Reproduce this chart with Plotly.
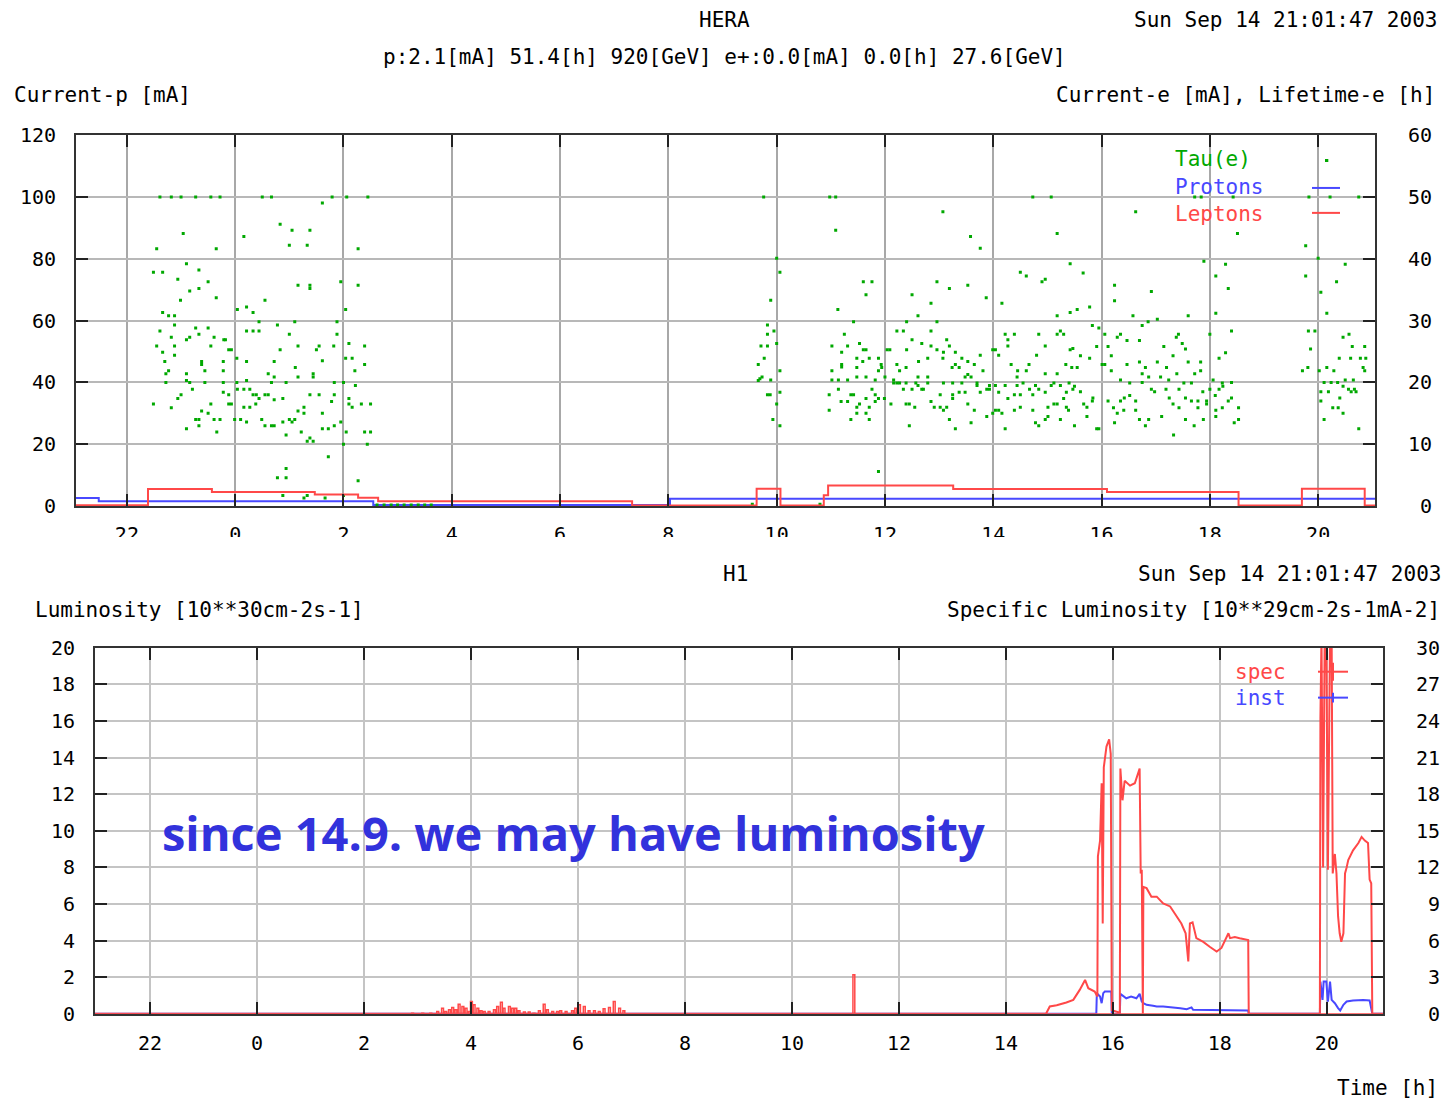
import plotly.graph_objects as go

W, H = 1446, 1100

# ---------------- data ----------------
hour_ticks = [-2, 0, 2, 4, 6, 8, 10, 12, 14, 16, 18, 20]
hour_labels = ["22", "0", "2", "4", "6", "8", "10", "12", "14", "16", "18", "20"]

curp_ticks = [0, 20, 40, 60, 80, 100, 120]
cure_ticks = [0, 10, 20, 30, 40, 50, 60]
lumi_ticks = [0, 2, 4, 6, 8, 10, 12, 14, 16, 18, 20]
spec_ticks = [0, 3, 6, 9, 12, 15, 18, 21, 24, 27, 30]

# Tau(e) lifetime [h] samples (hour, lifetime)
tau_run1 = [
    (-1.39, 50), (-1.18, 50), (-1.00, 50), (-0.73, 50), (-0.45, 50), (-0.28, 50), (0.50, 50), (0.67, 50),
    (1.79, 50), (2.06, 50), (2.45, 50), (1.61, 49.0), (0.83, 45.6), (-0.96, 44.1), (1.05, 44.6), (1.38, 44.6),
    (0.16, 43.6), (-1.45, 41.6), (-0.35, 41.6), (1.00, 42.2), (1.33, 42.2), (2.27, 41.6),
    (-0.90, 39.2), (-1.51, 37.8), (-1.34, 37.8), (-0.67, 38.2), (-1.06, 36.7), (-0.50, 36.3), (-0.84, 34.8),
    (-0.67, 35.2), (1.16, 35.7), (1.38, 35.7), (1.38, 35.2), (1.95, 36.3), (2.27, 35.7), (-1.01, 33.3),
    (-0.35, 33.7), (0.55, 33.3), (0.04, 31.8), (0.21, 32.2), (0.33, 31.3), (-1.34, 31.3), (-1.23, 30.8),
    (-1.12, 30.8), (-1.12, 29.3), (0.44, 29.8), (0.78, 29.3), (1.10, 29.8), (1.88, 29.8), (2.04, 31.8),
    (-1.39, 28.3), (-0.73, 28.8), (-0.50, 28.8), (0.21, 28.3), (0.33, 28.3), (0.44, 28.3), (1.00, 27.8),
    (1.88, 27.8), (-1.18, 27.3), (-0.90, 26.9), (-0.84, 27.3), (-0.67, 27.8), (-0.39, 27.3), (-0.21, 26.9),
    (-0.18, 26.9), (2.10, 26.3), (-1.45, 25.9), (-1.12, 25.9), (-0.45, 25.9), (-0.12, 25.3), (-0.07, 25.3),
    (0.83, 25.3), (1.16, 25.9), (1.50, 25.3), (1.55, 25.9), (1.82, 25.9), (2.39, 25.9),
    (-1.34, 24.9), (-1.12, 24.4), (0.03, 23.9), (-1.30, 23.4), (-0.62, 23.4), (-0.62, 22.9), (-0.22, 23.4),
    (0.21, 23.4), (0.72, 23.4), (1.61, 23.5), (1.11, 22.4), (2.04, 23.9), (2.16, 23.9), (2.39, 22.9),
    (-1.28, 21.4), (-1.23, 21.9), (-0.90, 21.4), (-0.56, 21.9), (-0.22, 21.9), (0.61, 21.4), (0.72, 20.9),
    (1.44, 21.4), (1.44, 20.9), (1.16, 20.9), (2.21, 21.9),
    (-1.28, 20.0), (-0.90, 20.3), (-0.84, 20.0), (-0.56, 20.0), (-0.22, 20.0), (0.03, 20.0), (0.21, 20.3),
    (0.67, 20.0), (0.94, 20.0), (1.83, 20.0), (2.00, 20.0), (2.22, 19.5), (-0.79, 18.9), (0.04, 18.9),
    (0.16, 18.9), (0.27, 18.9), (-0.22, 18.4), (-0.12, 18.0), (0.33, 18.0), (0.44, 17.4), (0.39, 18.0),
    (0.55, 18.0), (0.61, 18.0), (0.72, 17.2), (0.88, 17.4), (1.38, 18.0), (1.55, 18.0), (1.83, 18.0),
    (2.10, 17.4), (2.10, 16.5), (2.16, 16.0), (2.33, 16.5), (2.50, 16.5), (1.78, 16.9), (-1.00, 18.0),
    (-1.06, 17.4), (-1.51, 16.5), (-1.18, 15.9), (-0.45, 16.5), (-0.12, 16.5), (-0.07, 16.5), (0.16, 16.0),
    (0.27, 16.0), (0.38, 16.5), (1.16, 15.4), (1.27, 16.0), (1.27, 15.0), (1.61, 15.0),
    (-0.73, 14.0), (-0.67, 14.0), (-0.62, 15.4), (-0.50, 15.0), (-0.39, 14.0), (-0.28, 14.0), (-0.01, 14.0),
    (0.10, 14.0), (0.21, 13.6), (0.49, 14.0), (0.55, 13.0), (0.67, 13.0), (0.72, 13.0), (0.88, 13.6),
    (1.00, 14.0), (1.05, 13.6), (1.10, 14.0), (-0.90, 12.5), (-0.67, 13.0), (-0.34, 12.0), (0.94, 11.5),
    (1.22, 12.0), (1.61, 12.5), (1.72, 12.5), (1.83, 13.0), (1.95, 13.6), (2.05, 12.0), (2.39, 12.0),
    (2.50, 12.0), (1.33, 10.5), (1.44, 10.5), (1.38, 11.0), (2.44, 10.0), (2.00, 10.0),
    (1.72, 8.0), (0.94, 6.1), (0.78, 4.6), (0.94, 4.6), (2.27, 4.1), (0.88, 1.7), (1.27, 1.3), (1.33, 1.7),
    (1.66, 1.3), (2.00, 1.7),
    (2.62, 0.2), (2.75, 0.2), (2.88, 0.2), (3.00, 0.2), (3.12, 0.2), (3.25, 0.2), (3.38, 0.2), (3.50, 0.2),
    (3.62, 0.2),
]

tau_run2 = [
    (9.76, 50), (10.98, 50), (11.09, 50), (14.73, 50), (15.07, 50),
    (13.07, 47.6), (11.09, 44.6), (13.58, 43.6), (13.76, 41.7), (15.18, 44.1),
    (10.00, 40.1), (10.06, 37.8), (15.42, 39.2), (14.50, 37.8), (14.61, 37.2), (14.90, 36.3), (14.96, 36.7),
    (11.60, 36.3), (11.76, 36.3), (12.96, 36.3), (13.19, 35.2), (13.53, 35.7), (11.65, 34.2), (12.50, 34.2),
    (13.87, 33.7), (14.16, 32.8), (9.89, 33.3), (11.13, 31.8), (12.85, 32.8), (12.61, 30.8), (15.18, 30.8),
    (15.42, 31.3),
    (9.83, 29.3), (9.83, 27.8), (9.95, 28.3), (11.42, 29.8), (12.40, 29.8), (12.96, 29.8), (12.22, 28.3),
    (12.34, 28.3), (12.85, 28.3), (11.25, 27.8), (14.22, 27.8), (14.39, 27.8), (14.84, 27.8), (15.18, 27.8),
    (15.30, 27.8), (15.24, 28.3),
    (9.71, 25.9), (9.83, 25.9), (10.00, 26.3), (11.02, 25.9), (11.31, 25.9), (11.53, 26.3), (11.60, 25.3),
    (11.65, 25.3), (12.04, 25.3), (12.09, 25.3), (12.40, 25.3), (12.50, 26.9), (12.68, 26.3), (12.85, 25.9),
    (12.96, 25.3), (13.08, 24.9), (13.14, 26.9), (13.19, 25.9), (13.30, 24.9), (13.76, 24.4), (13.99, 25.3),
    (14.04, 25.3), (14.10, 24.4), (14.27, 26.9), (14.27, 25.9), (14.80, 24.4), (14.96, 25.9), (15.42, 25.3),
    (15.47, 25.5),
    (9.77, 23.9), (9.66, 22.9), (11.20, 24.9), (11.20, 22.9), (11.20, 22.5), (11.48, 23.9), (11.48, 22.4),
    (11.59, 23.4), (11.71, 23.9), (11.88, 23.9), (11.93, 22.9), (11.94, 22.4), (12.22, 22.9), (12.39, 22.4),
    (12.62, 23.4), (12.79, 23.9), (13.07, 23.9), (13.24, 22.4), (13.30, 22.9), (13.37, 22.4), (13.42, 23.9),
    (13.53, 23.4), (13.65, 22.9), (13.81, 21.9), (14.33, 22.9), (14.45, 21.9), (14.61, 21.9), (14.66, 22.9),
    (15.34, 22.9), (15.45, 22.4),
    (9.66, 20.3), (9.69, 20.6), (9.73, 20.9), (9.89, 20.4), (10.06, 21.9), (11.02, 20.4), (11.14, 20.4),
    (11.31, 20.4), (11.02, 21.9), (11.48, 20.9), (11.65, 20.9), (11.82, 20.4), (11.88, 21.9), (12.00, 20.9),
    (12.16, 20.4), (12.27, 21.9), (12.27, 19.9), (12.61, 20.9), (12.79, 20.9), (13.48, 20.9), (13.53, 21.3),
    (13.59, 20.9), (14.44, 20.9), (14.96, 21.4), (15.18, 21.4),
    (12.16, 19.9), (12.22, 19.9), (12.39, 19.9), (12.57, 19.9), (12.61, 19.5), (12.79, 19.9), (13.08, 19.9),
    (13.25, 19.9), (13.42, 19.9), (13.70, 19.9), (13.70, 19.5), (13.93, 19.5), (14.04, 19.5), (14.22, 19.5),
    (14.44, 19.5), (14.55, 19.9), (14.78, 19.5), (15.07, 19.5), (15.12, 19.9), (15.24, 19.5), (15.40, 19.9),
    (9.83, 18.0), (9.88, 18.0), (10.06, 18.4), (10.00, 16.5), (10.97, 18.0), (11.14, 18.9), (11.37, 18.0),
    (11.42, 18.0), (11.65, 17.4), (11.76, 18.9), (11.82, 18.0), (11.88, 17.4), (11.99, 17.4), (11.82, 16.9),
    (12.11, 16.5), (12.34, 18.9), (12.50, 18.9), (12.68, 18.9), (12.71, 18.9), (13.02, 18.0), (13.25, 17.4),
    (13.37, 18.4), (13.48, 18.4), (13.76, 18.4), (13.88, 18.9), (13.93, 18.9), (14.10, 18.4), (14.27, 17.4),
    (14.39, 18.0), (14.50, 18.0), (14.67, 18.9), (14.73, 18.0), (14.84, 18.9), (14.96, 18.4), (15.30, 17.4),
    (15.35, 18.4), (15.47, 18.9),
    (11.19, 16.9), (11.31, 16.9), (11.48, 16.0), (11.53, 16.5), (11.71, 16.0), (12.39, 16.5), (12.45, 16.5),
    (12.55, 16.0), (12.85, 16.9), (12.91, 16.0), (13.08, 15.5), (13.02, 16.0), (13.14, 16.0), (13.25, 18.0),
    (13.53, 16.5), (13.65, 15.5), (13.88, 14.5), (13.99, 15.0), (14.04, 15.5), (14.10, 15.5), (14.16, 15.0),
    (14.39, 15.5), (14.50, 16.0), (14.73, 15.5), (15.01, 16.0), (15.12, 16.5), (15.18, 16.5), (15.35, 16.0),
    (15.39, 15.5),
    (9.93, 14.0), (10.06, 13.0), (10.97, 15.5), (11.37, 14.0), (11.48, 15.0), (11.65, 15.0), (11.71, 14.0),
    (12.45, 13.0), (13.19, 14.0), (13.30, 12.5), (13.59, 13.5), (14.22, 12.5), (14.78, 13.5), (14.84, 13.0),
    (15.01, 14.5), (14.96, 14.0), (15.24, 14.0),
    (11.88, 5.6), (9.55, 0.3), (10.80, 0.3),
]

tau_run3 = [
    (20.16, 55.9), (17.72, 50), (17.84, 50), (18.43, 50), (19.83, 50), (20.22, 50), (20.75, 50),
    (16.63, 47.6), (18.51, 44.1), (19.77, 42.1), (20.00, 40.1), (17.89, 39.6), (18.29, 39.1), (20.50, 39.1),
    (15.66, 37.7), (18.11, 37.2), (19.77, 37.2), (20.34, 36.3), (16.24, 35.7), (18.34, 35.2), (16.92, 34.7),
    (20.05, 34.6), (16.24, 33.2), (15.55, 31.8), (15.78, 32.2), (18.11, 31.2), (20.16, 31.2), (16.58, 30.8),
    (16.75, 29.2), (16.86, 29.8), (17.03, 30.2), (17.60, 30.8), (15.83, 29.2), (15.95, 28.8), (16.06, 27.8),
    (16.29, 27.3), (16.35, 27.8), (16.47, 26.8), (16.70, 26.8), (17.38, 27.3), (17.42, 27.8), (17.49, 26.3),
    (17.55, 25.4), (18.00, 27.8), (18.40, 28.3), (19.82, 28.3), (19.94, 28.3), (20.46, 27.3), (20.57, 27.8),
    (15.61, 24.3), (15.78, 23.9), (15.91, 25.8), (16.12, 25.8), (16.18, 24.3), (17.15, 25.8), (17.32, 24.3),
    (18.29, 24.8), (18.17, 23.9), (19.86, 25.4), (20.63, 25.8), (20.86, 25.8),
    (15.55, 22.4), (16.01, 22.9), (16.06, 22.9), (16.18, 21.9), (16.47, 22.9), (16.70, 23.3), (16.81, 22.4),
    (17.03, 23.3), (17.20, 22.4), (17.39, 21.4), (17.60, 23.3), (17.83, 23.3), (17.72, 21.4), (17.83, 21.9),
    (20.02, 21.9), (19.81, 22.4), (19.71, 21.9), (20.16, 22.4), (20.29, 21.9), (20.39, 23.9), (20.60, 23.9),
    (20.83, 22.4), (20.78, 23.9), (20.88, 23.9), (20.86, 21.9),
    (16.35, 20.4), (16.52, 19.9), (16.75, 21.4), (16.87, 20.9), (17.09, 20.9), (16.75, 20.0), (17.24, 20.4),
    (17.52, 19.9), (17.66, 19.9), (18.06, 20.4), (18.23, 19.9), (18.24, 19.4), (18.17, 18.9), (18.40, 20.0),
    (20.11, 20.0), (20.24, 20.0), (20.36, 20.0), (20.50, 20.4), (20.65, 20.4), (20.46, 19.4), (20.67, 18.9),
    (15.50, 19.4), (15.61, 18.5), (15.67, 16.5), (15.84, 17.5), (15.83, 17.0), (15.73, 16.0), (16.12, 17.0),
    (16.35, 17.0), (16.42, 17.5), (16.52, 17.9), (16.63, 17.0), (16.92, 18.9), (16.98, 18.5), (17.19, 18.9),
    (17.25, 17.5), (17.43, 18.9), (17.55, 17.5), (17.66, 17.0), (17.78, 17.0), (17.87, 18.5), (17.94, 16.5),
    (18.00, 18.9), (18.10, 17.9), (17.94, 17.0), (18.40, 17.5), (18.34, 17.0), (20.05, 18.5), (20.05, 17.0),
    (20.19, 18.5), (20.40, 17.5), (20.56, 18.9), (20.61, 18.5), (20.70, 18.5), (20.37, 15.9), (20.27, 15.9),
    (15.50, 13.0), (15.73, 14.5), (15.91, 12.5), (15.95, 12.5), (16.24, 13.5), (16.22, 15.9), (16.29, 15.0),
    (16.41, 15.5), (16.63, 15.5), (16.70, 14.0), (16.87, 14.0), (16.81, 13.0), (17.11, 14.5), (17.33, 11.5),
    (17.32, 16.5), (17.43, 15.9), (17.55, 14.0), (17.71, 13.0), (17.78, 15.9), (17.88, 14.0), (18.11, 15.5),
    (18.23, 15.9), (18.11, 14.5), (18.45, 13.5), (18.53, 15.9), (18.53, 14.0), (20.11, 14.0), (20.46, 15.0),
    (20.75, 12.5),
]

# Proton current [mA] (left axis), step changes
protons_hours = [-2.94, -2.52, 2.55, 8.03, 21.05]
protons_current = [2.6, 1.6, 0.4, 2.4, 2.4]

# Lepton current [mA] (right axis), step changes
leptons_hours = [-2.94, -1.61, -0.43, 1.47, 2.27, 2.64, 7.33, 9.63, 10.07, 10.87, 10.95,
                 13.26, 16.10, 18.53, 19.70, 20.86, 21.05]
leptons_current = [0.15, 2.75, 2.3, 1.9, 1.35, 0.8, 0.1, 2.8, 0.1, 1.75, 3.35,
                   2.75, 2.3, 0.1, 2.8, 0.1, 0.1]

# Specific luminosity (right axis) - short spikes
spike_hours = [2.89, 3.08, 3.23, 3.36, 3.45, 3.51, 3.58, 3.64, 3.70, 3.76, 3.83, 3.89, 3.95, 3.99,
               4.04, 4.11, 4.17, 4.23, 4.32, 4.42, 4.48, 4.55, 4.60, 4.70, 4.76, 4.82, 4.88, 4.98,
               5.07, 5.16, 5.26, 5.35, 5.41, 5.51, 5.60, 5.66, 5.76, 5.88, 5.94, 6.01, 6.10, 6.19,
               6.29, 6.38, 6.47, 6.57, 6.66, 6.76, 6.84, 11.14]
spike_values = [0.05, 0.05, 0.05, 0.19, 0.46, 0.19, 0.33, 0.52, 0.33, 0.79, 0.6, 0.46, 0.19, 1.0,
                0.74, 0.46, 0.25, 0.19, 0.19, 0.33, 0.6, 0.95, 0.46, 0.6, 0.46, 0.46, 0.25, 0.14,
                0.14, 0.05, 0.25, 0.79, 0.33, 0.19, 0.19, 0.25, 0.19, 0.25, 0.46, 0.74, 0.6, 0.25,
                0.25, 0.19, 0.41, 0.52, 1.0, 0.46, 0.25, 3.2]

# Specific luminosity (right axis) - main curve
spec_hours = [-3.03, 14.75, 14.82, 14.95, 15.13, 15.26, 15.38, 15.48, 15.54, 15.66, 15.71, 15.72, 15.76,
              15.79, 15.81, 15.83, 15.88, 15.93, 15.96, 15.98, 16.13, 16.14, 16.18, 16.22, 16.32, 16.41,
              16.50, 16.52, 16.54, 16.56, 16.57, 16.63, 16.72, 16.82, 16.94, 17.07, 17.16, 17.28, 17.36,
              17.41, 17.44, 17.49, 17.56, 17.69, 17.81, 17.94, 18.03, 18.16, 18.19, 18.28, 18.37, 18.50,
              18.53, 18.54, 19.87, 19.88, 19.90, 19.93, 19.96, 19.99, 20.02, 20.06, 20.09, 20.11, 20.15,
              20.18, 20.21, 20.24, 20.27, 20.31, 20.34, 20.37, 20.40, 20.49, 20.59, 20.65, 20.71, 20.77,
              20.80, 20.83, 20.85, 21.05]
spec_values = [0, 0, 0.6, 0.7, 0.93, 1.14, 1.96, 2.78, 2.1, 1.83, 1.42, 12.9, 14.2,
               18.9, 7.4, 20.2, 21.9, 22.5, 21.3, 0.3, 0.1, 20.1, 17.5, 19.1, 18.7, 18.9,
               20.1, 11.5, 11.8, 0, 10.4, 10.3, 9.6, 9.6, 9.05, 8.8, 8.2, 7.4, 6.6,
               4.3, 7.4, 7.5, 6.2, 5.9, 5.5, 5.1, 5.4, 6.6, 6.2, 6.3, 6.2, 6.05,
               6.05, 0, 0, 24.3, 31, 12.0, 31, 31, 11.8, 31, 31, 11.5, 13.1,
               11.5, 8.0, 6.6, 5.9, 6.6, 11.5, 12.0, 12.6, 13.4, 14.0, 14.5, 14.2, 14.0,
               11.0, 10.7, 0, 0]

# Instantaneous luminosity (left axis)
inst_hours = [-3.03, 15.69, 15.70, 15.76, 15.79, 15.82, 15.85, 15.97, 15.98, 16.13, 16.14, 16.25, 16.34,
              16.44, 16.50, 16.54, 16.57, 16.63, 16.75, 16.82, 16.94, 17.13, 17.26, 17.38, 17.47, 17.50,
              17.75, 18.03, 18.53, 18.54, 19.87, 19.88, 19.92, 19.94, 19.99, 20.02, 20.06, 20.09, 20.15,
              20.21, 20.25, 20.31, 20.37, 20.49, 20.68, 20.80, 20.85, 21.05]
inst_values = [0, 0, 1.13, 0.94, 0.58, 1.13, 1.22, 1.22, 0, 0, 1.09, 0.85, 0.94,
               0.85, 1.09, 0.67, 0.58, 0.49, 0.44, 0.40, 0.40, 0.36, 0.31, 0.25, 0.35, 0.22,
               0.22, 0.18, 0.18, 0, 0, 1.76, 0.76, 1.76, 1.76, 0.67, 1.76, 0.76, 0.58,
               0.31, 0.18, 0.49, 0.67, 0.73, 0.76, 0.73, 0, 0]

# ---------------- styling ----------------
MONO = "DejaVu Sans Mono"
GREEN = "#00a800"
BLUE = "#4848ff"
RED = "#ff4848"


def pxx(x):
    return x / W


def pyy(y):
    # vertical placement tuned to the photographed page
    return 1 - (y - 9.6) / (0.9807 * H)


fig = go.Figure()

# top panel
tau_all = tau_run1 + tau_run2 + tau_run3
fig.add_trace(go.Scatter(x=[p[0] for p in tau_all], y=[p[1] for p in tau_all], xaxis="x", yaxis="y2",
                         mode="markers", marker=dict(symbol="square", size=3, color=GREEN, line=dict(width=0)),
                         showlegend=False))
fig.add_trace(go.Scatter(x=leptons_hours, y=leptons_current, xaxis="x", yaxis="y2", mode="lines",
                         line=dict(color=RED, width=2, shape="hv"), showlegend=False))
fig.add_trace(go.Scatter(x=protons_hours, y=protons_current, xaxis="x", yaxis="y", mode="lines",
                         line=dict(color=BLUE, width=2, shape="hv"), showlegend=False))

# bottom panel
sx, sy = [-3.03], [0]
for h, v in zip(spike_hours, spike_values):
    sx += [h, h + 0.035]
    sy += [v, 0]
sx.append(21.05)
sy.append(0)
fig.add_trace(go.Scatter(x=sx, y=sy, xaxis="x3", yaxis="y4", mode="lines",
                         line=dict(color=RED, width=1.5, shape="hv"), showlegend=False))
fig.add_trace(go.Scatter(x=spec_hours, y=spec_values, xaxis="x3", yaxis="y4", mode="lines",
                         line=dict(color=RED, width=2), showlegend=False))
fig.add_trace(go.Scatter(x=inst_hours, y=inst_values, xaxis="x3", yaxis="y3", mode="lines",
                         line=dict(color=BLUE, width=2), showlegend=False))

tickfont = dict(family=MONO, size=20, color="black")

common_x = dict(tickvals=hour_ticks, ticktext=hour_labels, ticks="inside", ticklen=12, tickwidth=2,
                tickcolor="#222", showline=True, linecolor="#333", linewidth=2, mirror="ticks",
                showgrid=True, gridwidth=2, zeroline=False, tickfont=tickfont)
common_y = dict(ticks="inside", ticklen=12, tickwidth=2, tickcolor="#222", showline=True, linecolor="#333",
                linewidth=2, mirror="ticks", showgrid=True, gridwidth=2, zeroline=False, tickfont=tickfont)

fig.update_layout(
    width=W, height=H, autosize=False, margin=dict(l=0, r=0, t=0, b=0),
    paper_bgcolor="white", plot_bgcolor="white", showlegend=False,
    xaxis=dict(domain=[pxx(76), pxx(1375)], anchor="y", range=[-2.94, 21.05], gridcolor="#a8a8a8",
               ticklabelstandoff=9, **common_x),
    yaxis=dict(domain=[pyy(505), pyy(133)], anchor="x", range=[0, 120], tickvals=curp_ticks,
               gridcolor="#b8b8b8", ticklabelstandoff=14, **common_y),
    yaxis2=dict(overlaying="y", side="right", anchor="x", range=[0, 60], tickvals=cure_ticks,
                ticktext=[("\u2007" + str(v)) if v < 10 else str(v) for v in cure_ticks],
                showgrid=False, ticks="", showline=False, zeroline=False, tickfont=tickfont,
                ticklabelstandoff=32),
    xaxis3=dict(domain=[pxx(95), pxx(1383)], anchor="y3", range=[-3.03, 21.05], gridcolor="#c4c4c4",
                ticklabelstandoff=10, **common_x),
    yaxis3=dict(domain=[pyy(1014), pyy(647)], anchor="x3", range=[0, 20], tickvals=lumi_ticks,
                gridcolor="#c4c4c4", ticklabelstandoff=14, **common_y),
    yaxis4=dict(overlaying="y3", side="right", anchor="x3", range=[0, 30], tickvals=spec_ticks,
                ticktext=[("\u2007" + str(v)) if v < 10 else str(v) for v in spec_ticks],
                showgrid=False, ticks="", showline=False, zeroline=False, tickfont=tickfont,
                ticklabelstandoff=32),
)

shapes = []
# legend background boxes (cover gridlines, under data)
shapes.append(dict(type="rect", xref="paper", yref="paper", x0=pxx(1173), x1=pxx(1374), y0=pyy(224), y1=pyy(134),
                   fillcolor="white", line=dict(width=0), layer="between"))
shapes.append(dict(type="rect", xref="paper", yref="paper", x0=pxx(1233), x1=pxx(1382), y0=pyy(712), y1=pyy(648),
                   fillcolor="white", line=dict(width=0), layer="between"))
# clip lower half of upper panel's hour labels
shapes.append(dict(type="rect", xref="paper", yref="paper", x0=0, x1=1, y0=pyy(556), y1=pyy(536),
                   fillcolor="white", line=dict(width=0), layer="above"))
# legend samples, top
shapes.append(dict(type="rect", xref="paper", yref="paper", x0=pxx(1325), x1=pxx(1328), y0=pyy(160), y1=pyy(157),
                   fillcolor=GREEN, line=dict(width=0)))
shapes.append(dict(type="line", xref="paper", yref="paper", x0=pxx(1312), x1=pxx(1340), y0=pyy(186), y1=pyy(186),
                   line=dict(color=BLUE, width=2)))
shapes.append(dict(type="line", xref="paper", yref="paper", x0=pxx(1312), x1=pxx(1340), y0=pyy(211), y1=pyy(211),
                   line=dict(color=RED, width=2)))
# legend samples, bottom
shapes.append(dict(type="line", xref="paper", yref="paper", x0=pxx(1318), x1=pxx(1348), y0=pyy(671), y1=pyy(671),
                   line=dict(color=RED, width=2)))
shapes.append(dict(type="line", xref="paper", yref="paper", x0=pxx(1333), x1=pxx(1333), y0=pyy(662), y1=pyy(680),
                   line=dict(color=RED, width=2)))
shapes.append(dict(type="line", xref="paper", yref="paper", x0=pxx(1318), x1=pxx(1348), y0=pyy(697), y1=pyy(697),
                   line=dict(color=BLUE, width=2)))
shapes.append(dict(type="line", xref="paper", yref="paper", x0=pxx(1333), x1=pxx(1333), y0=pyy(692), y1=pyy(702),
                   line=dict(color=BLUE, width=2)))
fig.update_layout(shapes=shapes)


def label(text, x, y, anchor="left", color="black", size=21, family=MONO, weight="normal"):
    fig.add_annotation(text=text, xref="paper", yref="paper", x=pxx(x), y=pyy(y), xanchor=anchor,
                       yanchor="middle", showarrow=False,
                       font=dict(family=family, size=size, color=color, weight=weight))


label("HERA", 724, 18, "center")
label("Sun Sep 14 21:01:47 2003", 1439, 18, "right")
label("p:2.1[mA] 51.4[h] 920[GeV] e+:0.0[mA] 0.0[h] 27.6[GeV]", 724, 55, "center")
label("Current-p [mA]", 12, 93, "left")
label("Current-e [mA], Lifetime-e [h]", 1437, 93, "right")
label("Tau(e)", 1173, 157, "left", GREEN)
label("Protons", 1173, 185, "left", BLUE)
label("Leptons", 1173, 212, "left", RED)

label("H1", 735, 573, "center")
label("Sun Sep 14 21:01:47 2003", 1443, 573, "right")
label("Luminosity [10**30cm-2s-1]", 33, 609, "left")
label("Specific Luminosity [10**29cm-2s-1mA-2]", 1442, 609, "right")
label("spec", 1233, 671, "left", RED)
label("inst", 1233, 697, "left", BLUE)
label("Time [h]", 1440, 1088, "right")

label("since 14.9. we may have luminosity", 160, 833, "left", "#3232dc", 47, "Open Sans", "bold")

fig.write_html("out.html",
               post_script="document.documentElement.style.margin='0';document.body.style.margin='0';"
                           "document.body.style.overflow='hidden';")
